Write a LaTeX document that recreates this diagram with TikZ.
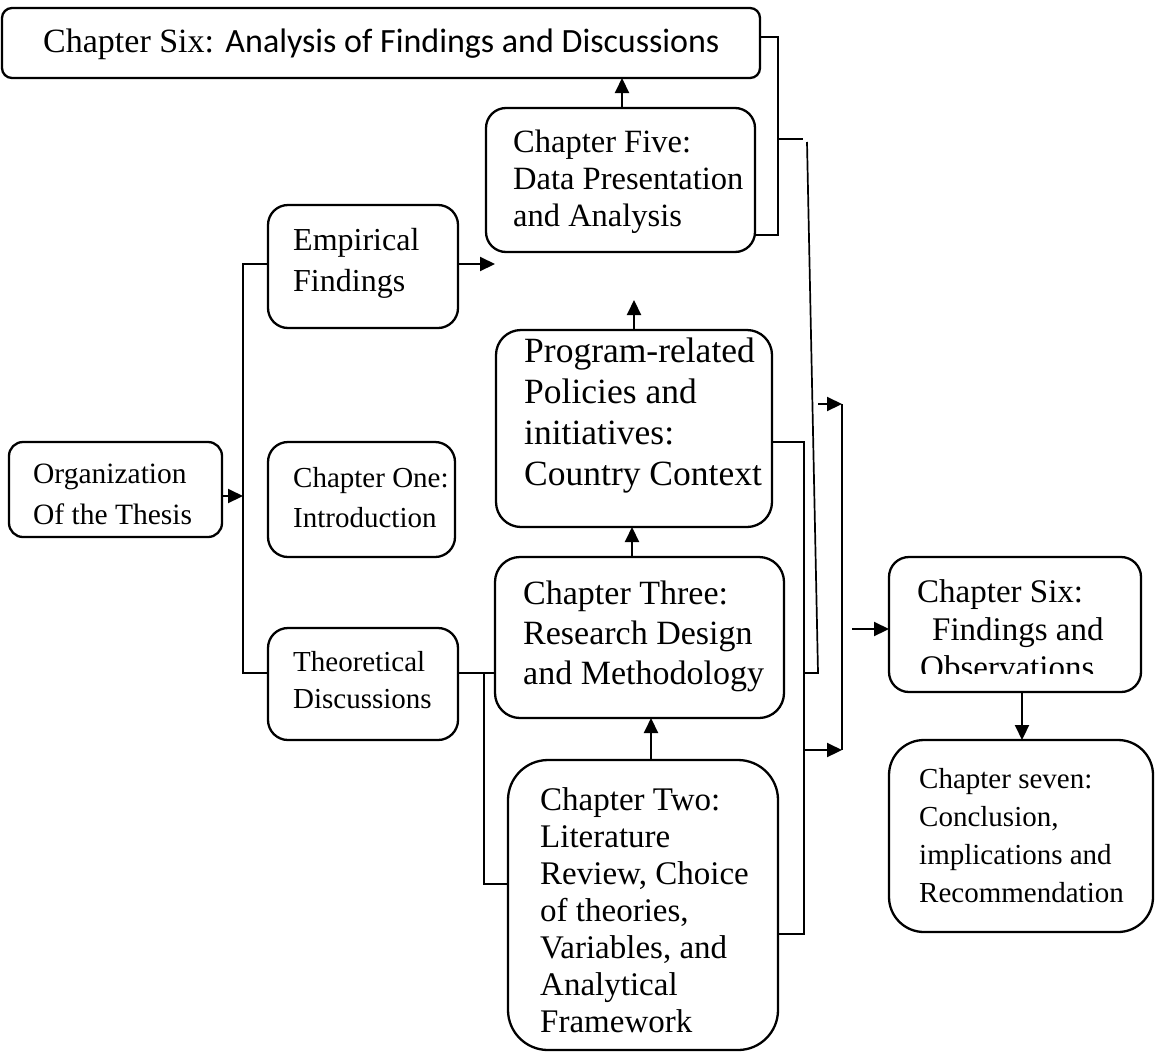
\documentclass[tikz,border=0pt]{standalone}
\usepackage{fontspec}
\setmainfont{Liberation Serif}
\newfontfamily\calibfont{Carlito}
\usetikzlibrary{arrows.meta}
\begin{document}
\begin{tikzpicture}[x=1pt,y=-1pt,
  box/.style={draw, line width=2.3pt, anchor=north west, inner sep=0pt, outer sep=0pt},
  txt/.style={anchor=north west, inner sep=0pt, align=left},
  link/.style={line width=2.1pt},
  arr/.style={line width=2.1pt, -{Triangle[length=15pt,width=14pt]}}]
\useasboundingbox (0,0) rectangle (1155,1055);
\fill[white] (0,0) rectangle (1155,1055);

% ---------- boxes ----------
\node[box, rounded corners=10pt, minimum width=758pt, minimum height=70pt]  (top)   at (2,8) {};
\node[box, rounded corners=20pt, minimum width=269pt, minimum height=144pt] (ch5)   at (486,108) {};
\node[box, rounded corners=20pt, minimum width=190pt, minimum height=123pt] (emp)   at (268,205) {};
\node[box, rounded corners=25pt, minimum width=276pt, minimum height=197pt] (prog)  at (496,330) {};
\node[box, rounded corners=14pt, minimum width=213pt, minimum height=95pt]  (org)   at (9,442) {};
\node[box, rounded corners=20pt, minimum width=187pt, minimum height=115pt] (one)   at (268,442) {};
\node[box, rounded corners=25pt, minimum width=289pt, minimum height=161pt] (three) at (495,557) {};
\node[box, rounded corners=20pt, minimum width=190pt, minimum height=112pt] (theo)  at (268,628) {};
\node[box, rounded corners=40pt, minimum width=270pt, minimum height=290pt] (two)   at (508,760) {};
\node[box, rounded corners=20pt, minimum width=252pt, minimum height=135pt] (six)   at (889,557) {};
\node[box, rounded corners=35pt, minimum width=264pt, minimum height=192pt] (seven) at (889,740) {};

% ---------- texts ----------
\node[anchor=base west, inner sep=0pt, font=\fontsize{34}{40}\selectfont] (top-t) at (43,52)
  {Chapter Six: {\calibfont Analysis of Findings and Discussions}};
\node[txt, font=\fontsize{32.5}{37}\selectfont] (ch5-t) at (513,130)
  {Chapter Five:\\Data Presentation\\and Analysis};
\node[txt, font=\fontsize{32}{41}\selectfont] (emp-t) at (293,228)
  {Empirical\\Findings};
\node[txt, font=\fontsize{35.5}{41}\selectfont] (prog-t) at (524,338)
  {Program-related\\Policies and\\initiatives:\\Country Context};
\begin{scope}
  \clip (9,442) rectangle (222,524);
  \node[txt, font=\fontsize{29.5}{41}\selectfont] (org-t) at (33,464)
    {Organization\\Of the Thesis};
\end{scope}
\node[txt, font=\fontsize{29}{40}\selectfont] (one-t) at (293,467)
  {Chapter One:\\Introduction};
\node[txt, font=\fontsize{34}{40}\selectfont] (three-t) at (523,581)
  {Chapter Three:\\Research Design\\and Methodology};
\node[txt, font=\fontsize{29}{37}\selectfont] (theo-t) at (293,651)
  {Theoretical\\Discussions};
\node[txt, font=\fontsize{33}{37}\selectfont] (two-t) at (540,787)
  {Chapter Two:\\Literature\\Review, Choice\\of theories,\\Variables, and\\Analytical\\Framework};
\begin{scope}
  \clip (889,557) rectangle (1141,673);
  \node[txt, font=\fontsize{33}{38}\selectfont] (six-t) at (917,579)
    {Chapter Six:\\\hspace*{15pt}Findings and\\\hspace*{3pt}Observations};
\end{scope}
\node[txt, font=\fontsize{29}{38}\selectfont] (seven-t) at (919,768)
  {Chapter seven:\\Conclusion,\\implications and\\Recommendation};

% ---------- left spine ----------
\coordinate (spT) at (243,264);
\coordinate (spB) at (243,673);
\draw[link] (emp.west |- spT) -- (spT) -- (spB) -- (theo.west |- spB);
\draw[arr] ([yshift=-6.5pt]org.east) -- ([yshift=-6.5pt]org.east -| spT);

% ---------- upward flows ----------
\coordinate (empTip) at (495,264);
\draw[arr] (emp.east |- empTip) -- (empTip);
\coordinate (c5up) at (622,0);
\draw[arr] (ch5.north -| c5up) -- (top.south -| c5up);
\coordinate (prUp) at (634,300);
\draw[arr] (prog.north -| prUp) -- (prUp);
\coordinate (thUp) at (632,0);
\draw[arr] (three.north -| thUp) -- (prog.south -| thUp);
\coordinate (twUp) at (651,0);
\draw[arr] (two.north -| twUp) -- (three.south -| twUp);

% ---------- theory bracket ----------
\coordinate (tj) at (484,673);
\coordinate (tjB) at (484,884);
\draw[link] (theo.east |- tj) -- (three.west |- tj);
\draw[link] (tj) -- (tjB) -- (two.west |- tjB);

% ---------- top-right bracket ----------
\coordinate (bA) at (778,37);
\coordinate (bB) at (778,235);
\coordinate (bM) at (778,139);
\coordinate (bMr) at (803,139);
\draw[link] (top.east |- bA) -- (bA) -- (bB) -- (ch5.east |- bB);
\draw[link] (bM) -- (bMr);
\coordinate (sA) at (807,142);
\coordinate (sB) at (818,673);
\coordinate (sC) at (804,673);
\draw[line width=1.7pt] (sA) -- (sB) -- (sC);

% ---------- right bracket ----------
\coordinate (rT) at (804,442);
\coordinate (rB) at (804,934);
\draw[link] (prog.east |- rT) -- (rT) -- (rB) -- (two.east |- rB);
\coordinate (qT) at (842,404);
\coordinate (qB) at (842,750);
\coordinate (qS) at (818,404);
\draw[link] (qT) -- (qB);
\draw[arr] (rT |- qB) -- (qB);
\draw[arr] (qS) -- (qT);

% ---------- findings and conclusion ----------
\coordinate (sixIn) at (852,629);
\draw[arr] (sixIn) -- (six.west |- sixIn);
\coordinate (sevx) at (1022,0);
\draw[arr] (six.south -| sevx) -- (seven.north -| sevx);
\end{tikzpicture}
\end{document}
